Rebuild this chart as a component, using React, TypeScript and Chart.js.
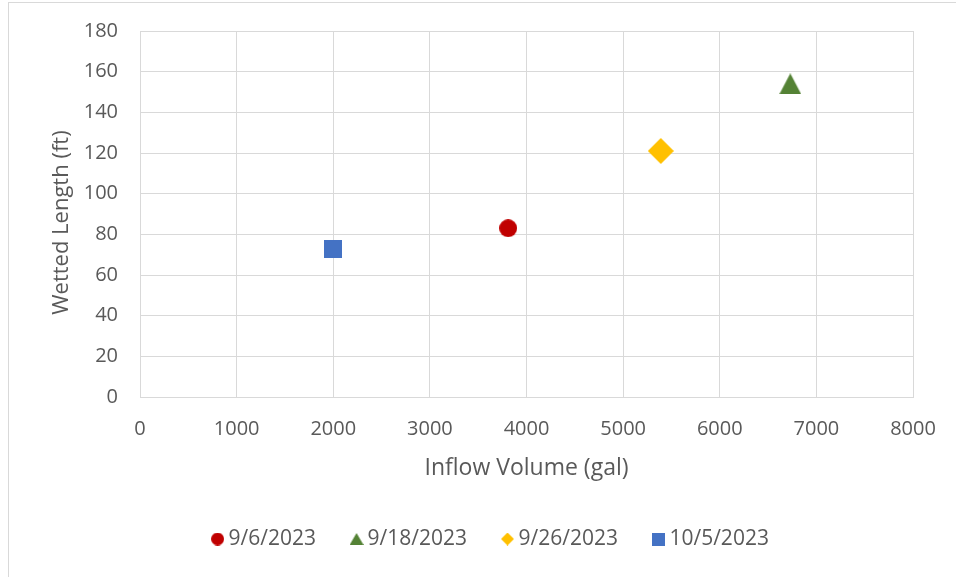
import React, { useEffect, useRef } from "react";
import { Chart, registerables } from "chart.js";

Chart.register(...registerables);

// ---- Data ----
const seriesLabels = ["9/6/2023", "9/18/2023", "9/26/2023", "10/5/2023"];
const inflowVolume = [3810, 6730, 5390, 2000];
const wettedLength = [83, 154, 121, 73];
const seriesColors = ["#C00000", "#548235", "#FFC000", "#4472C4"];
const seriesShapes = ["circle", "triangle", "diamond", "square"];

const X_MIN = 0;
const X_MAX = 8000;
const X_STEP = 1000;
const Y_MIN = 0;
const Y_MAX = 180;
const Y_STEP = 20;

const X_TITLE = "Inflow Volume (gal)";
const Y_TITLE = "Wetted Length (ft)   ";

const FONT = "'Open Sans', 'Liberation Sans', sans-serif";
const TEXT = "#595959";
const GRID = "#d9d9d9";

function makeMarker(shape: string, w: number, h: number, color: string) {
  const c = document.createElement("canvas");
  c.width = w;
  c.height = h;
  const ctx = c.getContext("2d")!;
  ctx.fillStyle = color;
  ctx.beginPath();
  if (shape === "circle") {
    ctx.arc(w / 2, h / 2, Math.min(w, h) / 2, 0, Math.PI * 2);
  } else if (shape === "triangle") {
    ctx.moveTo(w / 2, 0);
    ctx.lineTo(w, h);
    ctx.lineTo(0, h);
    ctx.closePath();
  } else if (shape === "diamond") {
    ctx.moveTo(w / 2, 0);
    ctx.lineTo(w, h / 2);
    ctx.lineTo(w / 2, h);
    ctx.lineTo(0, h / 2);
    ctx.closePath();
  } else {
    ctx.rect(0, 0, w, h);
  }
  ctx.fill();
  return c;
}

const plotSizes: Record<string, [number, number]> = {
  circle: [18, 18],
  triangle: [22, 21],
  diamond: [26, 26],
  square: [18, 18],
};
const legendSizes: Record<string, [number, number]> = {
  circle: [13, 13],
  triangle: [14, 12],
  diamond: [13, 13],
  square: [13, 13],
};

export default function App() {
  const ref = useRef<HTMLCanvasElement | null>(null);

  useEffect(() => {
    if (!ref.current) return;
    const plotMarkers = seriesShapes.map((s, i) =>
      makeMarker(s, plotSizes[s][0], plotSizes[s][1], seriesColors[i])
    );
    const legendMarkers = seriesShapes.map((s, i) =>
      makeMarker(s, legendSizes[s][0], legendSizes[s][1], seriesColors[i])
    );

    const datasets = seriesLabels.map((label, i) => ({
      label,
      data: [{ x: inflowVolume[i], y: wettedLength[i] }],
      pointStyle: plotMarkers[i] as any,
      pointRadius: 9,
      pointHoverRadius: 9,
      backgroundColor: seriesColors[i],
      borderColor: seriesColors[i],
      borderWidth: 0,
      showLine: false,
    }));

    const chart = new Chart(ref.current, {
      type: "scatter",
      data: { datasets },
      options: {
        responsive: false,
        animation: false,
        layout: { autoPadding: false, padding: { left: 73, right: 43, top: 31, bottom: 17.5 } },
        plugins: {
          tooltip: { enabled: false },
          legend: {
            position: "bottom",
            labels: {
              usePointStyle: true,
              boxWidth: 1,
              boxHeight: 21,
              padding: 40,
              color: TEXT,
              font: { family: FONT, size: 21 },
              generateLabels: (ch: any) => {
                const items = (Chart.defaults.plugins.legend.labels as any).generateLabels(ch);
                items.forEach((it: any, i: number) => {
                  it.pointStyle = legendMarkers[i];
                });
                return items;
              },
            },
          },
        },
        scales: {
          x: {
            type: "linear",
            min: X_MIN,
            max: X_MAX,
            afterFit: (s: any) => {
              s.height = 91.5;
              s.paddingLeft = 0;
              s.paddingRight = 0;
            },
            ticks: {
              stepSize: X_STEP,
              color: TEXT,
              padding: 20,
              maxRotation: 0,
              font: { family: FONT, size: 20 },
              callback: (v: any) => String(v),
            },
            grid: { color: GRID, lineWidth: 1, drawTicks: false },
            border: { display: true, color: GRID },
            title: {
              display: true,
              text: X_TITLE,
              color: TEXT,
              font: { family: FONT, size: 23 },
              padding: { top: 0, bottom: 6.3 },
            },
          },
          y: {
            type: "linear",
            min: Y_MIN,
            max: Y_MAX,
            afterFit: (s: any) => {
              s.width = 67;
              s.paddingTop = 0;
              s.paddingBottom = 0;
            },
            ticks: {
              stepSize: Y_STEP,
              color: TEXT,
              padding: 22,
              font: { family: FONT, size: 20 },
              callback: (v: any) => String(v),
            },
            grid: { color: GRID, lineWidth: 1, drawTicks: false },
            border: { display: true, color: GRID },
            title: {
              display: true,
              text: Y_TITLE,
              color: TEXT,
              font: { family: FONT, size: 22 },
              padding: { top: -24.7, bottom: 0 },
            },
          },
        },
      } as any,
    });
    return () => chart.destroy();
  }, []);

  return (
    <div
      style={{
        position: "fixed",
        left: 0,
        top: 0,
        width: 956,
        height: 577,
        overflow: "hidden",
        background: "#fff",
      }}
    >
      <div
        style={{
          position: "absolute",
          left: 8,
          top: 2,
          width: 1000,
          height: 700,
          borderLeft: `1px solid ${GRID}`,
          borderTop: `1px solid ${GRID}`,
        }}
      />
      <canvas
        ref={ref}
        width={956}
        height={577}
        style={{ position: "absolute", left: 0, top: 0, width: 956, height: 577 }}
      />
    </div>
  );
}
